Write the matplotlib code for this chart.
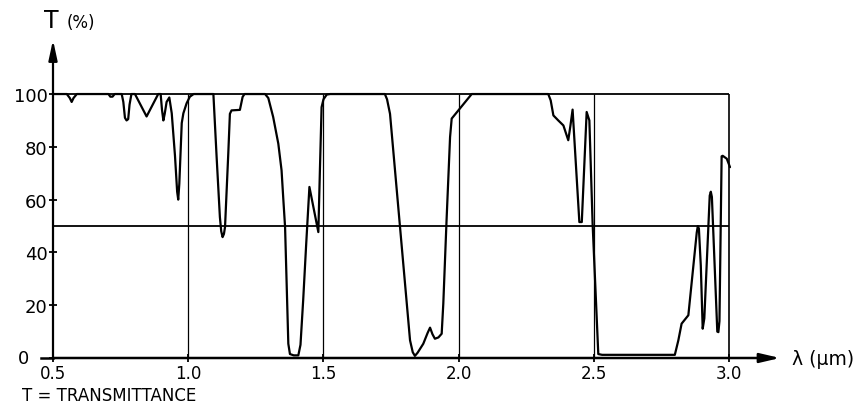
import matplotlib
matplotlib.use("Agg")
import matplotlib.pyplot as plt

# ---- data ----
wavelength_um = [
    0.500, 0.551, 0.562, 0.569, 0.576, 0.588, 0.705, 0.712, 0.720, 0.728,
    0.754, 0.760, 0.766, 0.772, 0.778, 0.783, 0.790, 0.803, 0.846, 0.889,
    0.898, 0.903, 0.908, 0.913, 0.920, 0.930, 0.939, 0.951, 0.959, 0.963,
    0.967, 0.976, 0.982, 0.994, 1.006, 1.020,
    1.093, 1.105, 1.117, 1.122, 1.127, 1.132, 1.136, 1.148, 1.154, 1.160,
    1.191, 1.201, 1.208, 1.284, 1.296, 1.314, 1.333, 1.345, 1.351, 1.358,
    1.370, 1.376, 1.390, 1.407, 1.415, 1.425, 1.436, 1.448, 1.465, 1.481,
    1.487, 1.493, 1.500, 1.512, 1.525,
    1.727, 1.735, 1.746, 1.783, 1.820, 1.830, 1.838, 1.848, 1.869, 1.885,
    1.894, 1.903, 1.912, 1.925, 1.937, 1.943, 1.955, 1.968, 1.974, 2.048,
    2.331, 2.340, 2.350, 2.368, 2.387, 2.405, 2.413, 2.421, 2.446, 2.455,
    2.473, 2.483, 2.495, 2.516, 2.530, 2.799, 2.812, 2.824, 2.849, 2.880,
    2.884, 2.888, 2.895, 2.902, 2.908, 2.928, 2.932, 2.936, 2.956, 2.960,
    2.964, 2.972, 2.976, 2.991, 3.003,
]
transmittance_pct = [
    100, 100, 98.5, 97, 98.5, 100, 100, 99, 99, 100,
    100, 97, 91, 90, 90.5, 96, 100, 100, 91.5, 100,
    100, 94, 90, 92.5, 97, 98.7, 92.7, 76.6, 63, 60,
    66, 89, 92.7, 96.5, 99, 100,
    100, 76, 53.4, 48, 45.8, 47, 49.6, 77.4, 92.5, 93.8,
    94, 98.9, 100, 100, 98.5, 91.3, 81.2, 71.1, 61, 49.6,
    5.4, 1.5, 1, 1, 5, 22, 43, 64.8, 56, 47.7,
    72, 95, 98, 99.8, 100,
    100, 98, 92.5, 49.6, 6.7, 2.2, 0.8, 2, 5.4, 9.5,
    11.5, 9, 7.3, 7.8, 9.2, 20.6, 52.1, 83.7, 90.7, 100,
    100, 97.6, 91.9, 90, 88.1, 82.5, 88, 94.1, 51.5, 51.5,
    93.2, 90, 50.9, 1.5, 1.2, 1.2, 6.7, 13, 16.2, 47.5,
    50, 49, 35, 11.1, 15, 61.5, 63, 61, 10, 9.8,
    14, 76.4, 76.6, 75.5, 72.3,
]
x_ticks = [0.5, 1.0, 1.5, 2.0, 2.5, 3.0]
x_tick_labels = ["0.5", "1.0", "1.5", "2.0", "2.5", "3.0"]
y_ticks = [0, 20, 40, 60, 80, 100]
y_tick_labels = ["", "20", "40", "60", "80", "100"]
grid_x = [1.0, 1.5, 2.0, 2.5]
grid_y = [50, 100]

# ---- figure ----
fig = plt.figure(figsize=(8.54, 4.10), dpi=100)
left, right = 53 / 854, 786 / 854
bottom, top = 1 - 359 / 410, 1 - 39.6 / 410
ax = fig.add_axes([left, bottom, right - left, top - bottom])
ax.set_xlim(0.5, 3.21)
ax.set_ylim(0, 121)
for s in ax.spines.values():
    s.set_visible(False)

ax.set_xticks(x_ticks)
ax.set_xticklabels(x_tick_labels, fontsize=12)
ax.set_yticks(y_ticks)
ax.set_yticklabels(y_tick_labels, fontsize=13)
ax.tick_params(axis="both", direction="inout", length=6, width=1.3, color="k")
ax.tick_params(axis="y", pad=1)
ax.tick_params(axis="x", pad=1.5)

# grid / frame
ax.vlines(grid_x, 0, 100, color="k", lw=0.9)
ax.vlines(3.0, 0, 100, color="k", lw=1.2)
ax.hlines(grid_y, 0.5, 3.0, color="k", lw=1.3)

# curve
ax.plot(wavelength_um, transmittance_pct, color="k", lw=1.6,
        solid_joinstyle="round", solid_capstyle="round", clip_on=False, zorder=3)

# axes with arrows
ax.plot([0.456, 0.5], [0, 0], color="k", lw=1.8, clip_on=False)
ax.annotate("", xy=(3.188, 0), xytext=(0.5, 0),
            arrowprops=dict(arrowstyle="-|>,head_length=1.2,head_width=0.28",
                            mutation_scale=10, lw=1.8, color="k",
                            shrinkA=0, shrinkB=0), zorder=4)
ax.annotate("", xy=(0.5, 120.5), xytext=(0.5, 0),
            arrowprops=dict(arrowstyle="-|>,head_length=1.2,head_width=0.26",
                            mutation_scale=10, lw=1.6, color="k",
                            shrinkA=0, shrinkB=0), zorder=4)

# texts
fig.text(24 / 854, 1 - 359 / 410, "0", fontsize=13, ha="center", va="center")
fig.text(51 / 854, 1 - 28 / 410, "T", fontsize=17, ha="center", va="baseline")
fig.text(67 / 854, 1 - 28 / 410, "(%)", fontsize=12, ha="left", va="baseline")
fig.text(792 / 854, 1 - 360 / 410, "λ (μm)", fontsize=13.5, ha="left", va="center")
fig.text(22 / 854, 1 - 396 / 410, "T = TRANSMITTANCE", fontsize=12,
         ha="left", va="center")

fig.savefig("out.png", dpi=100)
